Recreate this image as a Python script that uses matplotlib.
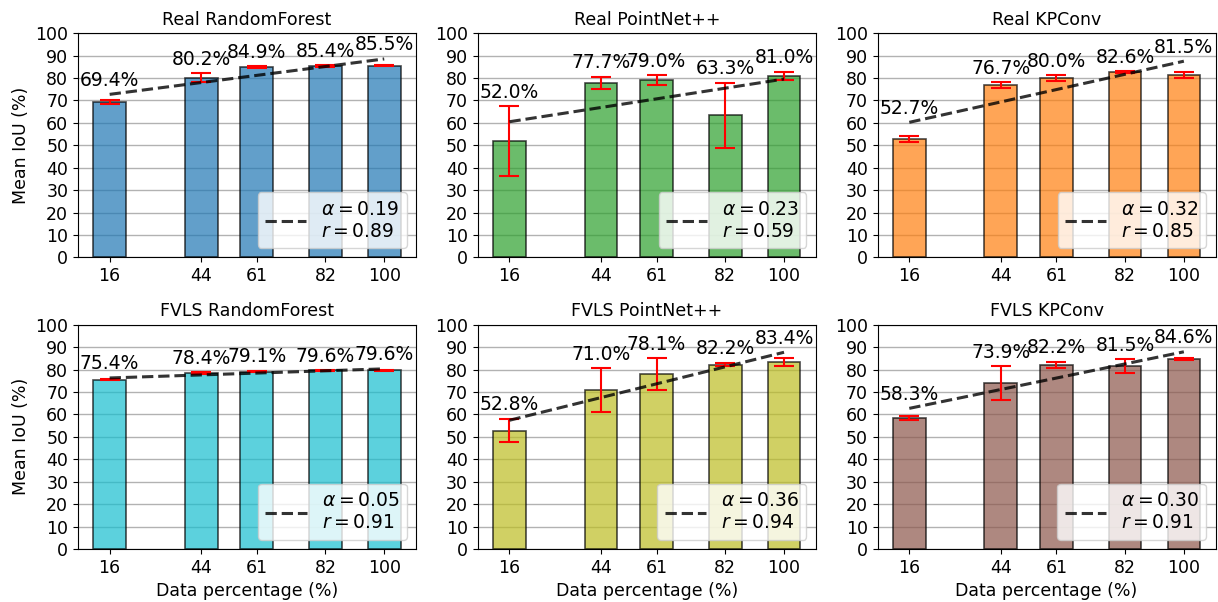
import numpy as np
import matplotlib
matplotlib.use("Agg")
import matplotlib.pyplot as plt

# training-data percentages used on the x axis
data_pct = [16, 44, 61, 82, 100]

titles = ["Real RandomForest", "Real PointNet++", "Real KPConv",
          "FVLS RandomForest", "FVLS PointNet++", "FVLS KPConv"]

# mean IoU (%) per run, and its std
real_rf_mean = [69.4, 80.2, 84.9, 85.4, 85.5]
real_rf_std = [1.0, 1.8, 0.3, 0.3, 0.3]
real_pn_mean = [52.0, 77.7, 79.0, 63.3, 81.0]
real_pn_std = [15.5, 2.8, 2.3, 14.5, 1.7]
real_kp_mean = [52.7, 76.7, 80.0, 82.6, 81.5]
real_kp_std = [1.3, 1.3, 1.3, 0.5, 1.3]
fvls_rf_mean = [75.4, 78.4, 79.1, 79.6, 79.6]
fvls_rf_std = [0.2, 0.3, 0.3, 0.2, 0.2]
fvls_pn_mean = [52.8, 71.0, 78.1, 82.2, 83.4]
fvls_pn_std = [5.2, 9.7, 7.0, 0.8, 1.8]
fvls_kp_mean = [58.3, 73.9, 82.2, 81.5, 84.6]
fvls_kp_std = [1.0, 7.5, 1.3, 3.2, 0.5]

# reported slope and correlation of each linear trend
alphas = [0.19, 0.23, 0.32, 0.05, 0.36, 0.30]
r_vals = [0.89, 0.59, 0.85, 0.91, 0.94, 0.91]

means = [real_rf_mean, real_pn_mean, real_kp_mean, fvls_rf_mean, fvls_pn_mean, fvls_kp_mean]
stds = [real_rf_std, real_pn_std, real_kp_std, fvls_rf_std, fvls_pn_std, fvls_kp_std]
colors = ["tab:blue", "tab:green", "tab:orange", "tab:cyan", "tab:olive", "tab:brown"]

plt.rcParams["font.size"] = 12.5

fig, axes = plt.subplots(2, 3, figsize=(12.18, 6.02), dpi=100)
fig.subplots_adjust(left=0.064, right=0.998, top=0.945, bottom=0.088,
                    wspace=0.183, hspace=0.30)

x = np.array(data_pct, dtype=float)
for i, ax in enumerate(axes.flat):
    y = np.array(means[i])
    e = np.array(stds[i])
    ax.grid(axis="y", color="gray", alpha=0.6, linewidth=1)
    ax.set_axisbelow(True)
    ax.bar(x, y, width=10, color=colors[i], alpha=0.7, edgecolor="black",
           linewidth=1.2)
    ax.errorbar(x, y, yerr=e, fmt="none", ecolor="red", elinewidth=1.5,
                capsize=7, capthick=1.5)

    # linear trend of IoU vs data percentage
    slope, intercept = np.polyfit(x, y, 1)
    trend = slope * x + intercept
    ax.plot([x[0], x[-1]], [trend[0], trend[-1]], "--", color="black",
            alpha=0.8, linewidth=2.2,
            label=f"$\\alpha = {alphas[i]:.2f}$\n$r = {r_vals[i]:.2f}$")

    for xi, yi, ei, ti in zip(x, y, e, trend):
        ax.text(xi, max(yi + ei, ti) + 2, f"{yi:.1f}%", ha="center",
                va="bottom", fontsize=13.5)

    ax.set_ylim(0, 100)
    ax.set_yticks(np.arange(0, 101, 10))
    ax.set_xticks(x)
    ax.set_xticklabels([str(p) for p in data_pct])
    ax.set_title(titles[i], fontsize=12.5)
    ax.legend(loc="lower right", handlelength=2.2, fontsize=13.5)
    if i % 3 == 0:
        ax.set_ylabel("Mean IoU (%)")
    if i >= 3:
        ax.set_xlabel("Data percentage (%)")

fig.savefig("out.png", dpi=100)
